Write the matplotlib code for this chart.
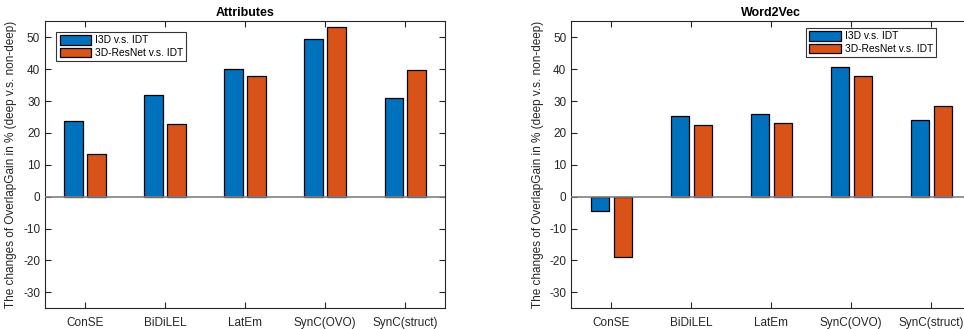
import numpy as np
import matplotlib
matplotlib.use("Agg")
import matplotlib.pyplot as plt

plt.rcParams['font.family'] = ['Liberation Sans', 'DejaVu Sans']
plt.rcParams['axes.unicode_minus'] = False

methods = ['ConSE', 'BiDiLEL', 'LatEm', 'SynC(OVO)', 'SynC(struct)']
series_names = ['I3D v.s. IDT', '3D-ResNet v.s. IDT']

attr_i3d = [23.6, 32.0, 40.0, 49.4, 30.9]
attr_resnet = [13.4, 22.7, 37.8, 53.1, 39.9]

w2v_i3d = [-4.6, 25.3, 25.9, 40.6, 24.2]
w2v_resnet = [-19.0, 22.4, 23.2, 37.8, 28.4]

yticks = [-30, -20, -10, 0, 10, 20, 30, 40, 50]
ylabel = 'The changes of OverlapGain in % (deep v.s. non-deep)'

blue = '#0072BD'
orange = '#D95319'
axcol = '#262626'

fig = plt.figure(figsize=(9.64, 3.29), dpi=100)


def draw_panel(ax, title, v1, v2, legend_loc, legend_anchor):
    x = np.arange(1, len(methods) + 1)
    bw = 0.228
    off = 0.143
    ax.bar(x - off, v1, bw, color=blue, edgecolor='black', linewidth=0.9,
           label=series_names[0], zorder=2)
    ax.bar(x + off, v2, bw, color=orange, edgecolor='black', linewidth=0.9,
           label=series_names[1], zorder=2)
    ax.axhline(0, color='#808080', linewidth=1.2, zorder=3)
    ax.set_xlim(0.5, 5.5)
    ax.set_ylim(-35, 55)
    ax.set_xticks(x)
    ax.set_xticklabels(methods)
    ax.set_yticks(yticks)
    ax.tick_params(direction='in', top=True, right=True, length=4,
                   labelsize=8.5, colors=axcol, width=0.8)
    ax.tick_params(axis='x', pad=6)
    for s in ax.spines.values():
        s.set_color(axcol)
        s.set_linewidth(0.8)
    ax.set_title(title, fontsize=9, fontweight='bold', pad=4)
    ax.set_ylabel(ylabel, fontsize=8.5, color=axcol, labelpad=4)
    leg = ax.legend(loc=legend_loc, bbox_to_anchor=legend_anchor,
                    fontsize=7.4, frameon=True, fancybox=False,
                    edgecolor='black', handlelength=3.1, handleheight=1.0,
                    borderaxespad=0.0, borderpad=0.3, labelspacing=0.25,
                    handletextpad=0.35)
    leg.get_frame().set_linewidth(0.8)
    return ax


ax1 = fig.add_axes([0.0467, 0.063, 0.415, 0.872])
draw_panel(ax1, 'Attributes', attr_i3d, attr_resnet, 'upper left', (0.0285, 0.962))

ax2 = fig.add_axes([0.5926, 0.063, 0.415, 0.872])
draw_panel(ax2, 'Word2Vec', w2v_i3d, w2v_resnet, 'upper right', (0.912, 0.976))

fig.savefig('out.png', dpi=100)
